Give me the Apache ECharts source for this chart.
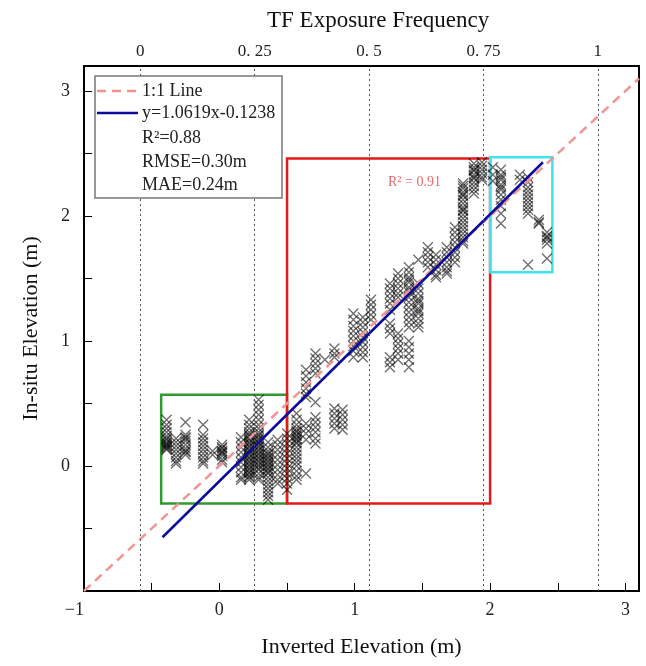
<!DOCTYPE html>
<html>
<head>
<meta charset="utf-8">
<script src="https://cdn.jsdelivr.net/npm/echarts@6/dist/echarts.min.js"></script>
<style>
  html, body { margin: 0; padding: 0; background: #fff; }
  #chart { width: 646px; height: 666px; }
</style>
</head>
<body>
<div id="chart"></div>
<script>
const FONT = "Liberation Serif";

// top axis (exposure frequency) ticks
const topTicks = [0, 0.25, 0.5, 0.75, 1];
const topLabels = ["0", "0. 25", "0. 5", "0. 75", "1"];

// scatter columns: inverted elevation (x) and in-situ elevations (y)
const colX = [
  -0.39, -0.32, -0.25, -0.12, -0.05, 0.02, 0.16, 0.22, 0.29, 0.36,
  0.43, 0.5, 0.57, 0.64, 0.71, 0.78, 0.85, 0.91, 0.99, 1.06,
  1.12, 1.26, 1.32, 1.4, 1.47, 1.54, 1.6, 1.68, 1.74, 1.8,
  1.88, 1.94, 2.02, 2.08, 2.22, 2.28, 2.36, 2.42
];
const colY = [
  [0.37, 0.33, 0.3, 0.27, 0.24, 0.22, 0.21, 0.19, 0.18, 0.17, 0.16, 0.15, 0.14, 0.13],
  [0.22, 0.19, 0.16, 0.13, 0.1, 0.07, 0.04, 0.02],
  [0.35, 0.25, 0.23, 0.22, 0.2, 0.17, 0.14, 0.12, 0.11, 0.09],
  [0.33, 0.25, 0.22, 0.19, 0.16, 0.13, 0.1, 0.07, 0.04, 0.02],
  [0.12, 0.09],
  [0.17, 0.15, 0.14, 0.12, 0.11, 0.1, 0.08, 0.05, 0.03],
  [0.23, 0.19, 0.15, 0.11, 0.07, 0.03, -0.01, -0.05, -0.09, -0.11],
  [0.37, 0.33, 0.3, 0.27, 0.25, 0.24, 0.22, 0.21, 0.19, 0.18, 0.16, 0.15, 0.13, 0.12, 0.1, 0.09, 0.07, 0.06, 0.04, 0.03, 0.01, 0.0, -0.02, -0.03, -0.05, -0.06, -0.08, -0.09, -0.11],
  [0.53, 0.49, 0.45, 0.41, 0.37, 0.33, 0.3, 0.27, 0.25, 0.24, 0.22, 0.21, 0.19, 0.18, 0.16, 0.15, 0.13, 0.12, 0.1, 0.09, 0.07, 0.06, 0.04, 0.03, 0.01, 0.0, -0.02, -0.03, -0.06, -0.09, -0.11],
  [0.19, 0.15, 0.12, 0.1, 0.09, 0.07, 0.06, 0.04, 0.03, 0.01, 0.0, -0.02, -0.03, -0.05, -0.06, -0.09, -0.12, -0.15, -0.18, -0.21, -0.24, -0.27],
  [0.21, 0.17, 0.13, 0.09, 0.05, 0.01, -0.03, -0.07, -0.11, -0.14],
  [0.26, 0.22, 0.18, 0.14, 0.1, 0.06, 0.02, -0.02, -0.06, -0.1, -0.14, -0.19],
  [0.42, 0.37, 0.33, 0.3, 0.28, 0.27, 0.25, 0.24, 0.22, 0.21, 0.19, 0.18, 0.15, 0.12, 0.09, 0.06, 0.03, 0.0, -0.04, -0.08, -0.11],
  [0.77, 0.72, 0.67, 0.62, 0.58, 0.55, 0.34, 0.3, 0.26, 0.21, -0.06],
  [0.9, 0.86, 0.82, 0.78, 0.74, 0.51, 0.39, 0.35, 0.31, 0.27, 0.22, 0.18],
  [0.85],
  [0.94, 0.9, 0.87, 0.46, 0.42, 0.38, 0.34, 0.3],
  [0.45, 0.41, 0.37, 0.33, 0.29],
  [1.22, 1.17, 1.12, 1.08, 1.04, 1.0, 0.96, 0.92, 0.87],
  [1.19, 1.15, 1.11, 1.07, 1.03, 0.99, 0.95, 0.91, 0.87],
  [1.33, 1.29, 1.25, 1.21, 1.17],
  [1.46, 1.42, 1.38, 1.34, 1.3, 1.25, 1.14, 1.1, 1.06, 0.87, 0.83, 0.79],
  [1.54, 1.5, 1.46, 1.42, 1.38, 1.35, 1.06, 1.02, 0.98, 0.94, 0.9, 0.85],
  [1.59, 1.55, 1.51, 1.49, 1.47, 1.43, 1.41, 1.39, 1.35, 1.31, 1.27, 1.23, 1.19, 1.15, 1.11, 1.0, 0.95, 0.9, 0.85, 0.79],
  [1.65, 1.46, 1.42, 1.38, 1.34, 1.32, 1.3, 1.26, 1.24, 1.22, 1.18, 1.14, 1.11],
  [1.75, 1.71, 1.67, 1.63, 1.59],
  [1.69, 1.65, 1.61, 1.57, 1.53, 1.51],
  [1.75, 1.71, 1.67, 1.63, 1.59, 1.56, 1.54],
  [1.91, 1.87, 1.83, 1.79, 1.75, 1.71, 1.67, 1.63],
  [2.26, 2.24, 2.22, 2.19, 2.17, 2.16, 2.13, 2.1, 2.07, 2.05, 2.04, 2.01, 1.98, 1.95, 1.92, 1.89, 1.86, 1.83, 1.8, 1.78],
  [2.42, 2.39, 2.37, 2.36, 2.33, 2.31, 2.3, 2.27, 2.24, 2.21, 2.18],
  [2.43, 2.4, 2.37, 2.34, 2.31, 2.29],
  [2.39, 2.33, 2.28],
  [2.37, 2.33, 2.31, 2.29, 2.25, 2.23, 2.21, 2.17, 2.13, 2.08, 2.02, 1.94],
  [2.33, 2.29],
  [2.31, 2.27, 2.23, 2.2, 2.17, 2.14, 2.11, 2.08, 2.05, 2.02, 1.61],
  [1.97, 1.95, 1.94],
  [1.87, 1.84, 1.83, 1.81, 1.78, 1.66]
];

// reference lines
const oneToOne = [[-1, -1], [3.1, 3.1]];
const fitLine = [[-0.42, -0.57], [2.39, 2.43]];

// highlighted regions [x0, y0], [x1, y1]
const greenBox = [[-0.43, -0.3], [0.5, 0.57]];
const redBox = [[0.5, -0.3], [2.0, 2.46]];
const cyanBox = [[2.0, 1.55], [2.46, 2.47]];

let points = [];
colX.forEach((x, i) => {
  for (const y of colY[i]) {
    points.push([x, y]);
  }
});

function box(b, color) {
  return [
    { coord: b[0], itemStyle: { color: "rgba(0,0,0,0)", borderColor: color, borderWidth: 2.5 } },
    { coord: b[1] },
  ];
}

let chart = echarts.init(document.getElementById("chart"));

let option = {
  animation: false,
  backgroundColor: "#fff",
  textStyle: { fontFamily: FONT },
  title: {
    text: "TF Exposure Frequency",
    left: 262,
    top: 4,
    textStyle: { fontFamily: FONT, fontSize: 23, fontWeight: "normal", color: "#111" },
  },
  grid: {
    left: 84,
    right: 7,
    top: 66,
    bottom: 75,
    show: true,
    borderColor: "#000",
    borderWidth: 2,
  },
  xAxis: [
    {
      type: "value",
      min: -1,
      max: 3.1,
      interval: 1,
      name: "Inverted Elevation (m)",
      nameLocation: "middle",
      nameGap: 45,
      nameTextStyle: { fontFamily: FONT, fontSize: 22, color: "#111" },
      axisLine: { show: true, onZero: false, lineStyle: { color: "#000", width: 2 } },
      axisTick: { show: true, inside: true, length: 8, lineStyle: { color: "#000" } },
      minorTick: { show: true, splitNumber: 2, length: 8, lineStyle: { color: "#000" } },
      splitLine: { show: false },
      axisLabel: {
        fontFamily: FONT,
        fontSize: 18,
        color: "#222",
        margin: 10,
        alignMinLabel: "right",
        showMaxLabel: false,
        formatter: (v) => String(v).replace("-", "\u2212"),
      },
    },
    {
      type: "value",
      position: "top",
      min: -0.123,
      max: 1.09,
      axisLine: { show: true, onZero: false, lineStyle: { color: "#000", width: 2 } },
      axisTick: { show: false },
      splitLine: { show: false },
      axisLabel: {
        fontFamily: FONT,
        fontSize: 17,
        color: "#222",
        margin: 6,
        customValues: topTicks,
        formatter: (v) => topLabels[topTicks.indexOf(v)] || "",
      },
    },
  ],
  yAxis: {
    type: "value",
    min: -1,
    max: 3.2,
    interval: 1,
    name: "In-situ Elevation (m)",
    nameLocation: "middle",
    nameGap: 42,
    nameTextStyle: { fontFamily: FONT, fontSize: 22, color: "#111" },
    axisLine: { show: true, onZero: false, lineStyle: { color: "#000", width: 2 } },
    axisTick: { show: true, inside: true, length: 8, lineStyle: { color: "#000" } },
    minorTick: { show: true, splitNumber: 2, length: 8, lineStyle: { color: "#000" } },
    splitLine: { show: false },
    axisLabel: {
      fontFamily: FONT,
      fontSize: 18,
      color: "#222",
      margin: 14,
      showMinLabel: false,
      showMaxLabel: false,
    },
  },
  series: [
    {
      name: "grid",
      type: "line",
      xAxisIndex: 1,
      data: [],
      silent: true,
      markLine: {
        silent: true,
        symbol: "none",
        label: { show: false },
        lineStyle: { type: [2, 3], color: "#555", width: 1 },
        data: topTicks.map((v) => ({ xAxis: v })),
      },
    },
    {
      name: "samples",
      type: "scatter",
      data: points,
      symbol: "path://M0,0L10,10M10,0L0,10",
      symbolSize: 10,
      itemStyle: {
        color: "rgba(0,0,0,0)",
        borderColor: "rgba(0,0,0,0.72)",
        borderWidth: 1.3,
      },
      markArea: {
        silent: true,
        data: [box(greenBox, "#2f9a2f"), box(redBox, "#e41a1a"), box(cyanBox, "#3fe3ef")],
      },
    },
    {
      name: "1:1 Line",
      type: "line",
      data: oneToOne,
      symbol: "none",
      lineStyle: { color: "#f29494", width: 2.5, type: [9, 6] },
    },
    {
      name: "fit",
      type: "line",
      data: fitLine,
      symbol: "none",
      lineStyle: { color: "#0c0c9c", width: 2.5 },
    },
  ],
  graphic: [
    {
      type: "rect",
      shape: { x: 95, y: 76, width: 187, height: 122 },
      style: { fill: "#fff", stroke: "#777", lineWidth: 1.5 },
      z: 10,
    },
    {
      type: "line",
      shape: { x1: 97, y1: 91, x2: 138, y2: 91 },
      style: { stroke: "#f29494", lineWidth: 2.5, lineDash: [9, 6] },
      z: 11,
    },
    {
      type: "line",
      shape: { x1: 97, y1: 113, x2: 138, y2: 113 },
      style: { stroke: "#0c0c9c", lineWidth: 2.5 },
      z: 11,
    },
    { type: "text", x: 142, y: 91, z: 11, style: { text: "1:1 Line", font: "18px " + FONT, fill: "#222", verticalAlign: "middle" } },
    { type: "text", x: 142, y: 113, z: 11, style: { text: "y=1.0619x-0.1238", font: "18px " + FONT, fill: "#222", verticalAlign: "middle" } },
    { type: "text", x: 142, y: 138, z: 11, style: { text: "R\u00b2=0.88", font: "18px " + FONT, fill: "#222", verticalAlign: "middle" } },
    { type: "text", x: 142, y: 162, z: 11, style: { text: "RMSE=0.30m", font: "18px " + FONT, fill: "#222", verticalAlign: "middle" } },
    { type: "text", x: 142, y: 185, z: 11, style: { text: "MAE=0.24m", font: "18px " + FONT, fill: "#222", verticalAlign: "middle" } },
    { type: "text", x: 388, y: 182, z: 11, style: { text: "R\u00b2 = 0.91", font: "14px " + FONT, fill: "#e8696b", verticalAlign: "middle" } },
  ],
};

chart.setOption(option);
</script>
</body>
</html>
